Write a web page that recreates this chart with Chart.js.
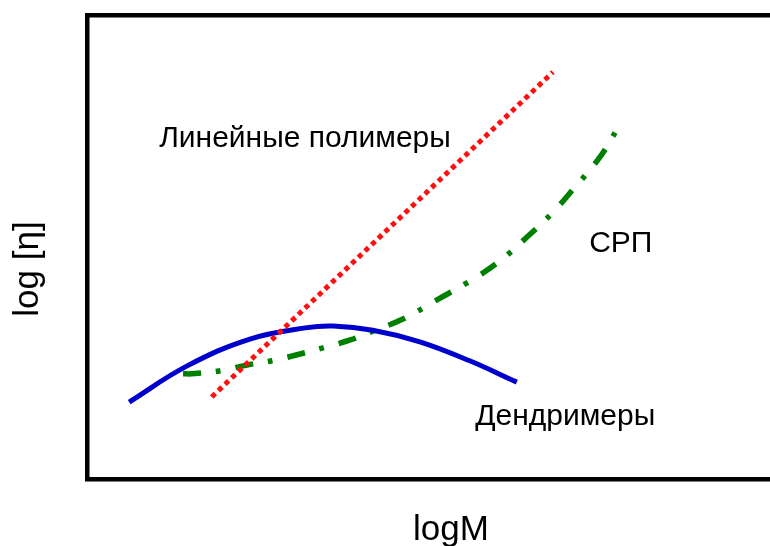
<!DOCTYPE html>
<html>
<head>
<meta charset="utf-8">
<script src="https://cdn.jsdelivr.net/npm/chart.js@4/dist/chart.umd.min.js"></script>
<style>
html,body{margin:0;padding:0;background:#fff;}
#wrap{width:770px;height:546px;position:relative;}
</style>
</head>
<body>
<div id="wrap"><canvas id="c"></canvas></div>
<script>
// Series (arbitrary logM / log[η] units)
const linearX = [1.82, 6.82];
const linearY = [1.77, 8.78];

const dendX = [0.61, 1.46, 2.38, 3.19, 3.60, 4.18, 4.87, 5.60, 6.29];
const dendY = [1.66, 2.44, 3.02, 3.26, 3.30, 3.21, 2.96, 2.55, 2.09];

const hbpX = [1.40, 1.53, 1.93, 2.34, 2.70, 3.07, 3.45, 3.85, 4.18, 4.62, 5.14, 5.58, 6.02, 6.44, 6.81, 7.11, 7.51, 7.77];
const hbpY = [2.27, 2.27, 2.33, 2.46, 2.55, 2.68, 2.83, 3.00, 3.19, 3.45, 3.88, 4.25, 4.68, 5.22, 5.74, 6.24, 6.95, 7.57];

const labelTexts = ["Линейные полимеры", "СРП", "Дендримеры"];
const labelX = [1.05, 7.35, 5.68];
const labelY = [7.16, 4.90, 1.17];

const xTitle = "logM";
const yTitle = "log [η]";

const toPts = (xs, ys) => xs.map((x, i) => ({x: x, y: ys[i]}));

const textPlugin = {
  id: 'texts',
  afterDraw(chart) {
    const ctx = chart.ctx;
    const xs = chart.scales.x, ys = chart.scales.y;
    ctx.save();
    ctx.fillStyle = '#000';
    ctx.font = '30px "Liberation Sans", Arial, sans-serif';
    ctx.textAlign = 'left';
    ctx.textBaseline = 'alphabetic';
    labelTexts.forEach((t, i) => {
      ctx.fillText(t, xs.getPixelForValue(labelX[i]), ys.getPixelForValue(labelY[i]));
    });
    ctx.font = '35px "Liberation Sans", Arial, sans-serif';
    ctx.textAlign = 'center';
    ctx.fillText(xTitle, 451, 540);
    ctx.translate(38, 269);
    ctx.rotate(-Math.PI / 2);
    ctx.fillText(yTitle, 0, 0);
    ctx.restore();
  }
};

const frameAxis = (pos) => ({
  type: 'linear', position: pos, min: 0, max: 10,
  display: true,
  ticks: {display: false},
  grid: {display: false, drawTicks: false},
  border: {display: true, color: '#000', width: 4.5}
});

new Chart(document.getElementById('c'), {
  type: 'line',
  data: {
    datasets: [
      {
        data: toPts(linearX, linearY),
        borderColor: '#ff1010', borderWidth: 5, borderDash: [5, 4.2],
        pointRadius: 0, tension: 0, fill: false
      },
      {
        data: toPts(dendX, dendY),
        borderColor: '#0000cc', borderWidth: 5,
        pointRadius: 0, tension: 0.4, fill: false
      },
      {
        data: toPts(hbpX, hbpY),
        borderColor: '#008000', borderWidth: 5.5, borderDash: [18, 15, 4.5, 15.5],
        pointRadius: 0, tension: 0.4, fill: false
      }
    ]
  },
  options: {
    responsive: true,
    maintainAspectRatio: false,
    animation: false,
    layout: {padding: {left: 87.5, top: 15.5, right: 0, bottom: 67}},
    plugins: {legend: {display: false}, tooltip: {enabled: false}, title: {display: false}},
    scales: {
      x: frameAxis('bottom'),
      x2: frameAxis('top'),
      y: frameAxis('left')
    }
  },
  plugins: [textPlugin]
});
</script>
</body>
</html>
